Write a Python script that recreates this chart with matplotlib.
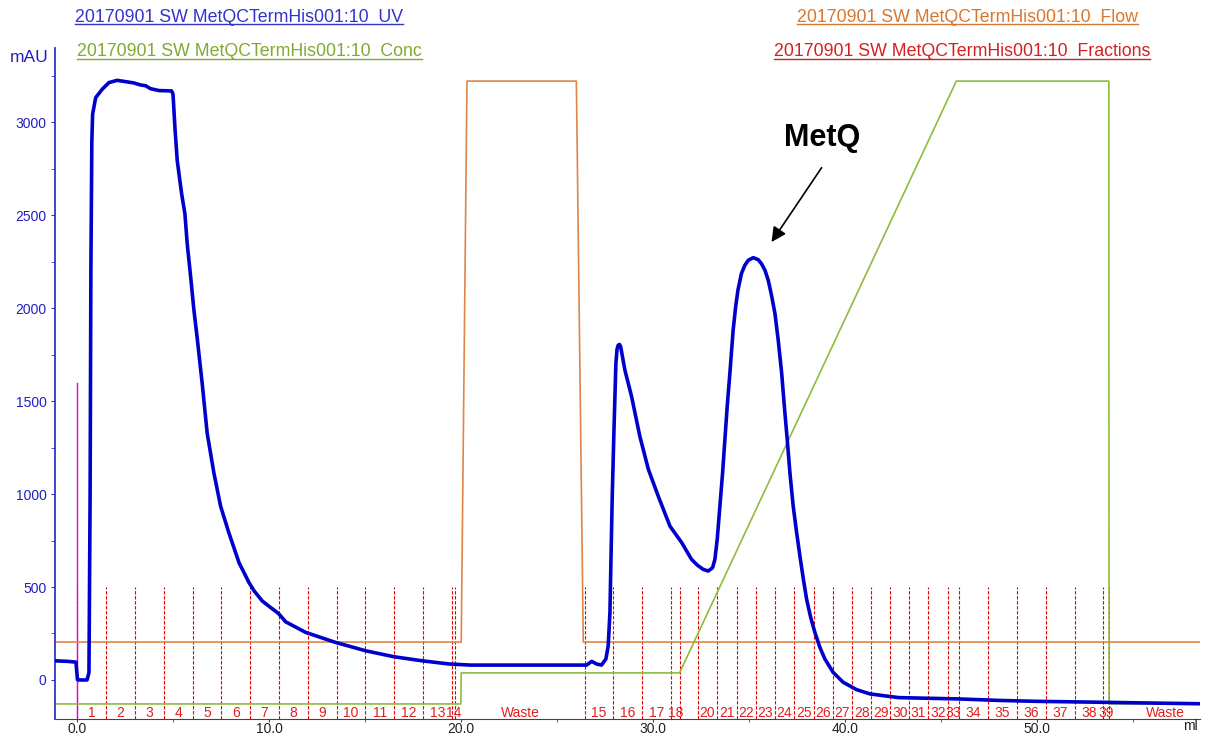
import matplotlib
matplotlib.use("Agg")
import matplotlib.pyplot as plt
from matplotlib.lines import Line2D

plt.rcParams['font.family'] = ['Liberation Sans', 'DejaVu Sans']

# UV 280 nm trace (ml, mAU)
uv_ml = [-1.17, -0.5, -0.08, 0.0, 0.05, 0.5, 0.6, 0.66, 0.7, 0.75, 0.79, 0.95, 1.29, 1.64,
         2.07, 2.51, 2.94, 3.29, 3.55, 3.81, 4.25, 4.91, 4.98, 5.08, 5.2, 5.43, 5.6, 5.72,
         5.9, 6.07, 6.24, 6.5, 6.76, 7.11, 7.46, 7.89, 8.42, 8.94, 9.2, 9.63, 10.0, 10.41,
         10.5, 10.85, 11.89, 13.45, 15.02, 16.49, 17.97, 19.36, 20.5, 25.66, 26.53, 26.8,
         27.05, 27.31, 27.54, 27.66, 27.75, 27.8, 27.87, 27.96, 28.06, 28.12, 28.18, 28.25,
         28.31, 28.53, 28.88, 29.31, 29.75, 30.27, 30.88, 31.49, 32.0, 32.3, 32.61, 32.87,
         33.1, 33.22, 33.34, 33.48, 33.62, 33.74, 33.86, 34.0, 34.17, 34.3, 34.42, 34.6,
         34.78, 34.96, 35.22, 35.48, 35.65, 35.83, 36.0, 36.17, 36.35, 36.52, 36.7, 36.84,
         36.99, 37.13, 37.3, 37.48, 37.65, 37.83, 38.0, 38.21, 38.43, 38.69, 38.95, 39.38,
         39.9, 40.6, 41.3, 42.8, 45.9, 48.0, 50.0, 53.4, 55.25, 58.5]
uv_mau = [103, 100, 96, 2, 0, 0, 40, 1000, 2200, 2900, 3044, 3133, 3178, 3214,
          3226, 3219, 3212, 3201, 3197, 3181, 3171, 3169, 3151, 2972, 2794, 2615, 2508, 2347,
          2168, 1989, 1840, 1596, 1328, 1114, 935, 792, 631, 524, 480, 425, 395, 363,
          355, 313, 256, 202, 157, 125, 103, 86, 80, 80, 80, 100,
          86, 80, 113, 184, 363, 631, 988, 1346, 1703, 1780, 1801, 1805,
          1792, 1667, 1524, 1310, 1134, 988, 827, 739, 649, 618, 595, 586,
          604, 649, 756, 935, 1114, 1292, 1471, 1650, 1882, 2007, 2097, 2186,
          2231, 2258, 2272, 2261, 2239, 2204, 2150, 2070, 1971, 1828, 1650, 1471,
          1292, 1114, 935, 792, 667, 542, 434, 337, 256, 176, 113, 41,
          -12, -52, -75, -95, -102, -110, -115, -120, -123, -128]

# flow and concentration traces
flow_ml = [-1.17, 20.0, 20.3, 26.0, 26.36, 58.5]
flow_val = [204, 204, 3222, 3222, 204, 204]
conc_ml = [-1.17, 19.98, 20.0, 31.38, 45.8, 53.75, 53.76, 58.5]
conc_val = [-129, -129, 38, 38, 3222, 3222, -129, -129]

# fraction marks
frac_start = [0, 1.5, 3.0, 4.5, 6.0, 7.5, 9.0, 10.5, 12.0, 13.5, 15.0, 16.5, 18.0, 19.5,
              19.7, 26.45, 27.92, 29.43, 30.94, 31.38, 32.33, 33.33, 34.35, 35.34, 36.35,
              37.35, 38.36, 39.35, 40.36, 41.37, 42.37, 43.33, 44.33, 45.35, 45.94, 47.44,
              48.94, 50.46, 51.96, 53.45, 53.75]
frac_labels = [str(i) for i in range(1, 15)] + ['Waste'] + \
              [str(i) for i in range(15, 40)] + ['Waste']
run_end = 59.6
hidden = {'19'}

inject_ml = 0.0
inject_top = 1600

fig = plt.figure(figsize=(12.23, 7.35), dpi=100)
ax = fig.add_axes([55 / 1223, 16 / 735, 1145 / 1223, 671 / 735])
ax.set_xlim(-1.17, 58.5)
ax.set_ylim(-210, 3400)

# fractions: dashed red markers with numbers along the bottom
for i, x0 in enumerate(frac_start):
    ax.plot([x0, x0], [-210, 500], color='#e00000', lw=0.8, ls=(0, (3, 1.5)), zorder=1)
    x1 = frac_start[i + 1] if i + 1 < len(frac_start) else run_end
    if frac_labels[i] in hidden:
        continue
    ax.text((x0 + x1) / 2, -180, frac_labels[i], color='#e02020', fontsize=10,
            ha='center', va='center', zorder=2)

ax.plot([inject_ml, inject_ml], [-210, inject_top], color='#dd00dd', lw=1, zorder=2)
ax.plot(flow_ml, flow_val, color='#e0864a', lw=1.2, zorder=2)
ax.plot(conc_ml, conc_val, color='#8fbc3c', lw=1.2, zorder=2)
ax.plot(uv_ml, uv_mau, color='#0000cc', lw=2.6, solid_joinstyle='round', zorder=3)

ax.text(38.8, 2915, 'MetQ', ha='center', va='center', fontsize=22, fontweight='bold')
ax.annotate('', xy=(36.17, 2356), xytext=(38.78, 2756),
            arrowprops=dict(arrowstyle='-|>', color='black', lw=1.2, mutation_scale=22,
                            shrinkA=0, shrinkB=0))

# axes styling
for s in ('top', 'right'):
    ax.spines[s].set_visible(False)
ax.spines['left'].set_color('#3333cc')
ax.spines['left'].set_linewidth(1.3)
ax.spines['bottom'].set_color('#444444')
ax.set_yticks(range(0, 3001, 500))
ax.set_yticks(range(0, 3300, 250), minor=True)
ax.set_xticks(range(0, 51, 10))
ax.set_xticks(range(0, 56, 5), minor=True)
ax.set_xticklabels([f'{v:.1f}' for v in range(0, 51, 10)])
ax.tick_params(axis='y', which='both', colors='#3333cc', labelcolor='#2020c0',
               length=3, labelsize=10, pad=3)
ax.tick_params(axis='x', which='both', colors='#444444', labelcolor='#222222',
               length=2, labelsize=10, pad=0)

fig.text(10 / 1223, 1 - 58 / 735, 'mAU', color='#2020c0', fontsize=12.5, va='center')
fig.text(1198 / 1223, 1 - 726 / 735, 'ml', color='#222222', fontsize=10,
         ha='right', va='center')

# curve names
headers = [
    (75, 17, '20170901 SW MetQCTermHis001:10  UV', '#3333cc'),
    (77, 52, '20170901 SW MetQCTermHis001:10  Conc', '#80aa30'),
    (797, 17, '20170901 SW MetQCTermHis001:10  Flow', '#d9772e'),
    (774, 52, '20170901 SW MetQCTermHis001:10  Fractions', '#d42020'),
]
texts = []
for hx, hy, label, c in headers:
    texts.append((fig.text(hx / 1223, 1 - hy / 735, label, color=c, fontsize=12.8,
                           va='center'), c))
fig.canvas.draw()
r = fig.canvas.get_renderer()
inv = fig.transFigure.inverted()
for t, c in texts:
    bb = t.get_window_extent(r).transformed(inv)
    yl = bb.y0 + 2 / 735
    fig.add_artist(Line2D([bb.x0, bb.x1], [yl, yl], color=c, lw=1))

fig.savefig('out.png', dpi=100)
